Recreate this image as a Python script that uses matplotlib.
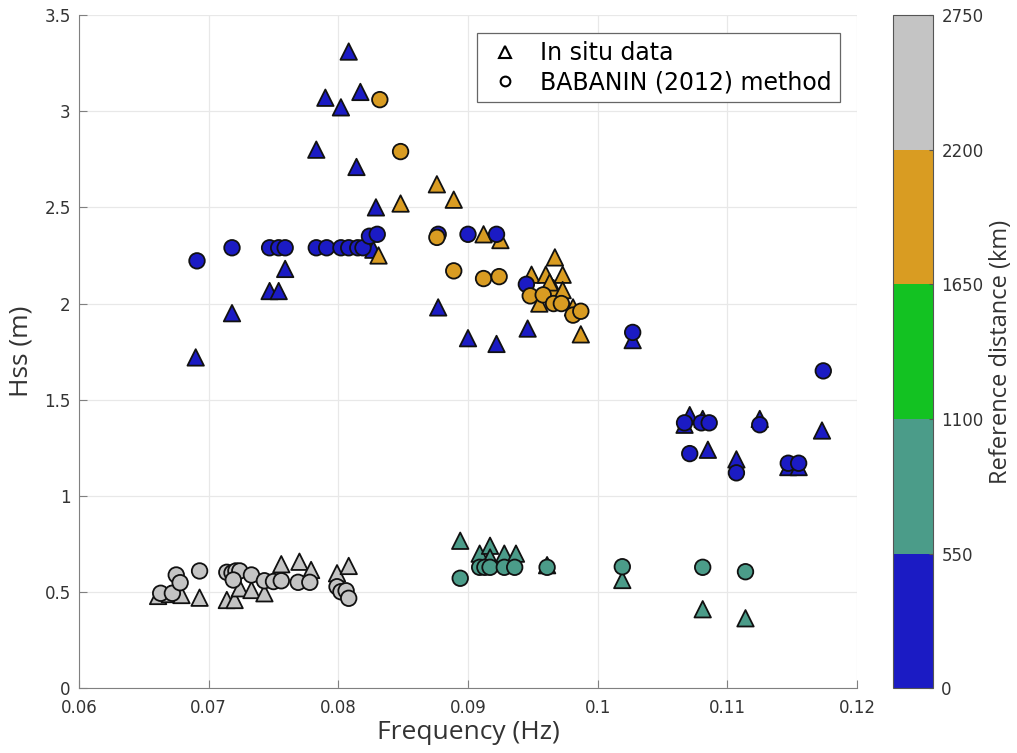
import matplotlib
matplotlib.use('Agg')
from matplotlib import pyplot as plt
from matplotlib.colors import ListedColormap, BoundaryNorm
from matplotlib.cm import ScalarMappable
from matplotlib.lines import Line2D

# In situ data (triangles): frequency (Hz), Hss (m), reference distance (km)
insitu_freq = [0.0808, 0.0790, 0.0817, 0.0802, 0.0783, 0.0814, 0.0829, 0.0827,
               0.0690, 0.0718, 0.0747, 0.0754, 0.0759, 0.0877, 0.0900, 0.0922,
               0.0946, 0.1027, 0.1071, 0.1067, 0.1081, 0.1085, 0.1125, 0.1107,
               0.1147, 0.1155, 0.1173,
               0.0848, 0.0876, 0.0889, 0.0831, 0.0912, 0.0925, 0.0967, 0.0949,
               0.0960, 0.0973, 0.0966, 0.0973, 0.0955, 0.0981, 0.0987, 0.0963,
               0.0894, 0.0909, 0.0917, 0.0928, 0.0937, 0.0917, 0.0961, 0.1019,
               0.1081, 0.1114,
               0.0661, 0.0670, 0.0679, 0.0693, 0.0714, 0.0720, 0.0724, 0.0733,
               0.0743, 0.0756, 0.0770, 0.0779, 0.0799, 0.0808]
insitu_hss = [3.31, 3.07, 3.10, 3.02, 2.80, 2.71, 2.50, 2.28,
              1.72, 1.95, 2.065, 2.065, 2.18, 1.98, 1.82, 1.79,
              1.87, 1.81, 1.42, 1.37, 1.40, 1.24, 1.40, 1.19,
              1.15, 1.15, 1.34,
              2.52, 2.62, 2.54, 2.25, 2.36, 2.33, 2.24, 2.15,
              2.15, 2.15, 2.08, 2.07, 2.00, 1.98, 1.84, 2.11,
              0.767, 0.70, 0.741, 0.70, 0.70, 0.68, 0.64, 0.563,
              0.411, 0.364,
              0.48, 0.49, 0.485, 0.471, 0.459, 0.459, 0.52, 0.511,
              0.494, 0.645, 0.658, 0.615, 0.598, 0.636]
insitu_dist = [275] * 27 + [1925] * 16 + [825] * 10 + [2475] * 14

# BABANIN (2012) method (circles)
babanin_freq = [0.0691, 0.0718, 0.0747, 0.0754, 0.0759, 0.0783, 0.0791, 0.0802,
                0.0808, 0.0815, 0.0819, 0.0824, 0.0830, 0.0877, 0.0900, 0.0922,
                0.0945, 0.1027, 0.1174, 0.1067, 0.1080, 0.1086, 0.1071, 0.1125,
                0.1107, 0.1147, 0.1155,
                0.0832, 0.0848, 0.0876, 0.0889, 0.0912, 0.0924, 0.0948, 0.0958,
                0.0966, 0.0972, 0.0981, 0.0987,
                0.0894, 0.0909, 0.0913, 0.0917, 0.0928, 0.0936, 0.0961, 0.1019,
                0.1081, 0.1114,
                0.0663, 0.0672, 0.0675, 0.0678, 0.0693, 0.0714, 0.0718, 0.0721,
                0.0724, 0.0719, 0.0733, 0.0743, 0.0750, 0.0756, 0.0769, 0.0778,
                0.0799, 0.0802, 0.0806, 0.0808]
babanin_hss = [2.222, 2.29, 2.29, 2.29, 2.29, 2.29, 2.29, 2.29,
               2.29, 2.29, 2.29, 2.35, 2.36, 2.36, 2.36, 2.36,
               2.10, 1.85, 1.65, 1.38, 1.38, 1.38, 1.22, 1.37,
               1.12, 1.17, 1.17,
               3.06, 2.79, 2.344, 2.17, 2.13, 2.14, 2.04, 2.045,
               2.00, 2.00, 1.94, 1.96,
               0.572, 0.629, 0.629, 0.629, 0.629, 0.629, 0.629, 0.632,
               0.629, 0.606,
               0.494, 0.494, 0.589, 0.549, 0.61, 0.603, 0.60, 0.61,
               0.61, 0.563, 0.589, 0.559, 0.555, 0.559, 0.551, 0.551,
               0.528, 0.502, 0.507, 0.468]
babanin_dist = [275] * 27 + [1925] * 12 + [825] * 10 + [2475] * 20

dist_levels = [0, 550, 1100, 1650, 2200, 2750]
dist_colors = ['#1b1bc4', '#4b9c89', '#13c222', '#d99c22', '#c4c4c4']

cmap = ListedColormap(dist_colors)
norm = BoundaryNorm(dist_levels, cmap.N)

fig = plt.figure(figsize=(10.17, 7.53), dpi=100)
ax = fig.add_axes([79 / 1017, 1 - 688.3 / 753, 778 / 1017, 673.3 / 753])

ax.scatter(insitu_freq, insitu_hss, c=insitu_dist, cmap=cmap, norm=norm,
           marker='^', s=140, edgecolors='#111111', linewidths=1.3, zorder=3)
ax.scatter(babanin_freq, babanin_hss, c=babanin_dist, cmap=cmap, norm=norm,
           marker='o', s=125, edgecolors='#111111', linewidths=1.3, zorder=4)

ax.set_xlim(0.06, 0.12)
ax.set_ylim(0, 3.5)
ax.set_xticks([0.06, 0.07, 0.08, 0.09, 0.1, 0.11, 0.12])
ax.set_xticklabels(['0.06', '0.07', '0.08', '0.09', '0.1', '0.11', '0.12'])
ax.set_yticks([0, 0.5, 1, 1.5, 2, 2.5, 3, 3.5])
ax.set_yticklabels(['0', '0.5', '1', '1.5', '2', '2.5', '3', '3.5'])
ax.grid(color='#e8e8e8', linewidth=0.9)
ax.set_axisbelow(True)
for side in ['top', 'right']:
    ax.spines[side].set_visible(False)
for side in ['left', 'bottom']:
    ax.spines[side].set_color('#808080')
ax.tick_params(direction='in', length=6, color='#808080', labelcolor='#333333',
               labelsize=12)
ax.tick_params(axis='x', pad=8)
ax.tick_params(axis='y', pad=6)

ax.set_xlabel('Frequency (Hz)', fontsize=19, color='#333333', family='Open Sans', labelpad=2)
ax.set_ylabel('Hss (m)', fontsize=19, color='#333333', family='Open Sans', labelpad=8)

handles = [Line2D([], [], ls='none', marker='^', ms=8, mfc='none', mec='k', mew=1.5),
           Line2D([], [], ls='none', marker='o', ms=7, mfc='none', mec='k', mew=1.5)]
leg = ax.legend(handles, ['In situ data', 'BABANIN (2012) method'],
                loc='upper right', bbox_to_anchor=(0.978, 0.973), borderaxespad=0,
                fontsize=17, fancybox=False, framealpha=1, edgecolor='#666666',
                handletextpad=0.7, borderpad=0.35, labelspacing=0.2, handlelength=1.6)
leg.get_frame().set_linewidth(0.9)

cax = fig.add_axes([893 / 1017, 1 - 688.3 / 753, 40 / 1017, 673.3 / 753])
cb = fig.colorbar(ScalarMappable(norm=norm, cmap=cmap), cax=cax, ticks=dist_levels)
cb.outline.set_edgecolor('#555555')
cb.outline.set_linewidth(0.8)
cax.tick_params(direction='in', length=3, color='#555555', labelcolor='#333333',
                labelsize=12, pad=6)
cb.set_label('Reference distance (km)', fontsize=17, color='#333333',
             family='Open Sans', labelpad=4)

fig.savefig('out.png', dpi=100)
